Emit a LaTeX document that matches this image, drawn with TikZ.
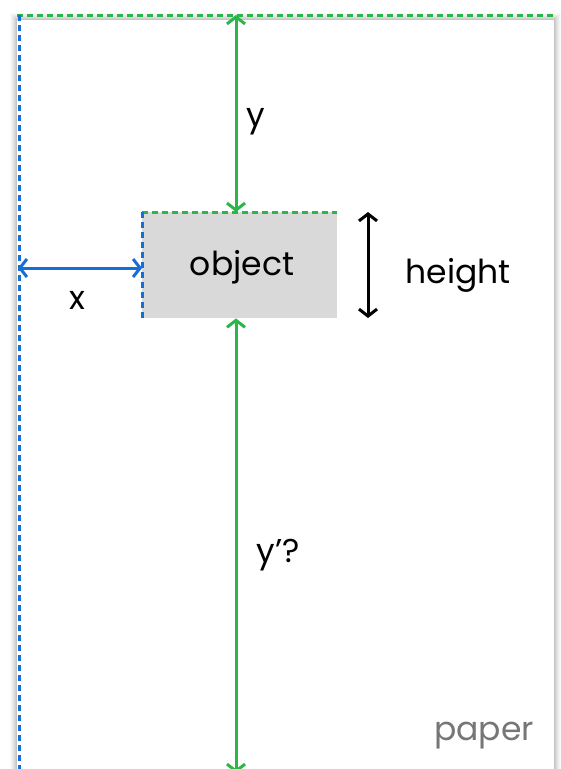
\documentclass[tikz,border=0pt]{standalone}
\usepackage{fontspec}
\setmainfont{Poppins}
\usetikzlibrary{arrows.meta}
\definecolor{cgreen}{RGB}{43,182,73}
\definecolor{cblue}{RGB}{22,110,214}
\definecolor{cobj}{RGB}{217,217,217}
\definecolor{cpaper}{RGB}{118,118,118}
\tikzset{
  dim/.style={line width=3pt,{Straight Barb[length=7pt,width=18pt,line width=3pt]}-{Straight Barb[length=7pt,width=18pt,line width=3pt]}},
  guide/.style={line width=3pt,dash pattern=on 6pt off 4pt},
  lbl/.style={font=\fontsize{33}{40}\selectfont,inner sep=0pt},
}
\begin{document}
\begin{tikzpicture}[x=1pt,y=-1pt]
\useasboundingbox (0,0) rectangle (561,769);
% paper shadow
\foreach \d/\o in {7/0.02,6/0.025,5/0.03,4/0.035,3/0.04,2/0.05,1/0.06}{
  \fill[black,opacity=\o] (17-\d,20-\d) rectangle (554+\d,780);
}
\fill[white] (17,20) rectangle (554,780);
\node[text=cpaper,lbl] (paper) at (484,736) {paper};
% guides
\coordinate (gl) at (17,15);
\coordinate (gr) at (553,15);
\draw[guide,cgreen] (gl) -- (gr);
\coordinate (bt) at (19,15);
\coordinate (bb) at (19,775);
\draw[guide,cblue] (bt) -- (bb);
% object
\node[fill=cobj,minimum width=195pt,minimum height=106pt,inner sep=0pt,anchor=north west,lbl] (obj) at (142,212) {};
\node[lbl] (objtxt) at (242,267) {object};
\draw[guide,cgreen] (obj.north west) -- (obj.north east);
\draw[guide,cblue] (obj.north west) -- (obj.south west);
% dimensions
\coordinate (ytop) at (236,15);
\coordinate (ybot) at (236,773);
\coordinate (xl) at (18,268);
\draw[dim,cgreen] (ytop) -- (obj.north west -| ytop);
\draw[dim,cgreen] (obj.south west -| ytop) -- (ybot);
\draw[dim,cblue] (xl) -- (obj.west |- xl);
\coordinate (ht) at (368,212);
\coordinate (hb) at (368,318);
\draw[dim,black] (ht) -- (hb);
\node[lbl] (ylab) at (256,122) {y};
\node[lbl] (xlab) at (77,300) {x};
\node[lbl] (hlab) at (458,275) {height};
\node[lbl] (yplab) at (278,555) {y’?};
\end{tikzpicture}
\end{document}
